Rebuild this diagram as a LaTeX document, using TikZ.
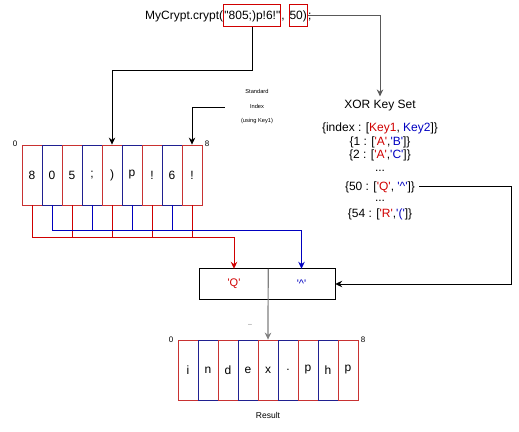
\documentclass[tikz,border=0pt]{standalone}
\usepackage{fontspec}
\setmainfont{Liberation Sans}[Ligatures=TeXOff]
\usetikzlibrary{arrows.meta,positioning}

\definecolor{kred}{HTML}{D00000}
\definecolor{kblue}{HTML}{0000C0}
\definecolor{cellred}{HTML}{C83232}
\definecolor{cellblue}{HTML}{202090}

\begin{document}
\begin{tikzpicture}[x=1pt, y=-1pt,
  txt/.style={font=\fontsize{12}{14}\selectfont, inner sep=0pt},
  strbox/.style={txt, draw=kred, line width=1pt, inner xsep=0.5pt, minimum height=22pt},
  keyline/.style={txt, inner xsep=4pt, anchor=base},
  cell/.style={txt, minimum width=20pt, minimum height=60pt, line width=0.8pt},
  small/.style={font=\fontsize{8}{10}\selectfont, inner sep=0pt},
  arr/.style={-{Stealth[length=7pt,width=6.5pt]}, line width=0.9pt}]
  \useasboundingbox (0,0) rectangle (519,431);

  % Kallet oeverst
  \node[txt, anchor=base west] (call) at (145,19) {MyCrypt.crypt(};
  \node[strbox, anchor=base west] (str) at (call.base east) {"805;)p!6!"};
  \node[txt, anchor=base west] (comma) at (str.base east) {,};
  \node[strbox, anchor=base west] (num) at ([xshift=3.5pt]comma.base east) {50)};
  \node[txt, anchor=base west] (semi) at (num.base east) {;};

  % Noekkelsett
  \node[txt, inner ysep=3pt, anchor=base] (xor) at (380,108) {XOR Key Set};
  \node[keyline] (k0) at (380,131) {\{index : [\textcolor{kred}{Key1}, \textcolor{kblue}{Key2}]\}};
  \node[keyline] (k1) at (380,145) {\{1 : [\textcolor{kred}{'A'},\textcolor{kblue}{'B'}]\}};
  \node[keyline] (k2) at (380,158) {\{2 : [\textcolor{kred}{'A'},\textcolor{kblue}{'C'}]\}};
  \node[keyline] (k3) at (380,171) {...};
  \node[keyline] (k4) at (380,190) {\{50 : [\textcolor{kred}{'Q'}, \textcolor{kblue}{'\textasciicircum'}]\}};
  \node[keyline] (k5) at (380,201) {...};
  \node[keyline] (k6) at (380,217) {\{54 : [\textcolor{kred}{'R'},\textcolor{kblue}{'('}]\}};

  % Inndata-tabell
  \foreach \ch [count=\i from 0] in {8,0,5,{;},{)},p,!,6,!}{
    \ifodd\i \def\col{cellblue}\else\def\col{cellred}\fi
    \node[cell, draw=\col] (a\i) at (32+20*\i,175) {\ch};
  }
  \node[small] (a0lab) at (15,144) {0};
  \node[small] (a8lab) at (207,144) {8};
  \node[align=center, inner sep=0pt, minimum width=64pt,
        font=\fontsize{5.7}{14.5}\selectfont] (std) at (257,107) {Standard\\Index\\(using Key1)};

  % Resultat-tabell
  \foreach \ch [count=\i from 0] in {i,n,d,e,x,{.},p,h,p}{
    \ifodd\i \def\col{cellblue}\else\def\col{cellred}\fi
    \node[cell, draw=\col] (r\i) at (188+20*\i,370) {\ch};
  }
  \node[small] (r0lab) at (171,340) {0};
  \node[small] (r8lab) at (363,340) {8};
  \node[small, font=\fontsize{8.5}{10}\selectfont] (res) at (268,415) {Result};

  % XOR-par
  \node[txt, font=\fontsize{11}{13}\selectfont, minimum width=68pt, minimum height=30pt, text=kred] (q) at (234,284) {'Q'};
  \node[txt, font=\fontsize{11}{13}\selectfont, minimum width=67pt, minimum height=30pt, text=kblue] (hat) at (301.5,284) {'\textasciicircum'};
  \draw[line width=0.8pt] (q.north west) rectangle (hat.south east);
  \node[font=\fontsize{7}{8}\selectfont, text=gray, inner sep=0pt] (dash) at (250,325) {–};

  % Piler
  \draw[arr] (str.south) -- ++(0,43) -| (a4.north);
  \draw[arr] (std.west) -| (a8.north);
  \draw[arr, draw=black!65] (num.east) -| (xor.north);
  \coordinate (bend) at (511,0);
  \draw[arr] (k4.east) -| (bend |- hat.east) -- (hat.east);
  \draw[arr, draw=black!50, line width=1.2pt] (q.north east) -- (r4.north);

  % Samleskinner
  \coordinate (rbus) at (32,237);
  \coordinate (bbus) at (52,230);
  \foreach \i in {0,2,4,6,8} \draw[kred, line width=0.8pt] (a\i.south) -- (a\i.south |- rbus);
  \foreach \i in {1,3,5,7} \draw[kblue, line width=0.8pt] (a\i.south) -- (a\i.south |- bbus);
  \draw[arr, kred] (rbus) -| (q.north);
  \draw[arr, kblue] (bbus) -| (hat.north);
\end{tikzpicture}
\end{document}
